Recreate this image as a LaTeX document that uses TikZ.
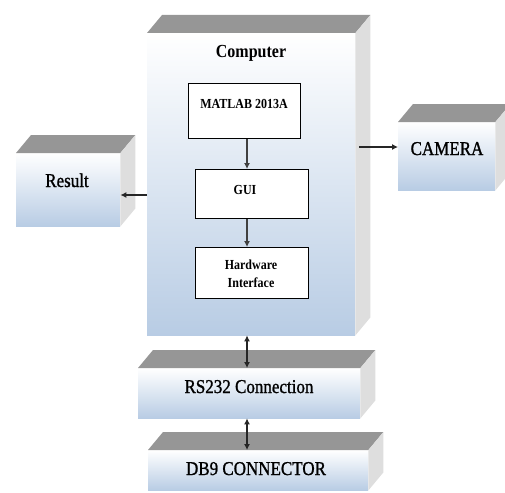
\documentclass[tikz,border=0pt]{standalone}
\usepackage{fontspec}
\setmainfont{Liberation Serif}
\newfontfamily\heavyserif[FakeBold=1.2]{Liberation Serif}
\usetikzlibrary{arrows.meta}

\definecolor{facetop}{HTML}{969696}
\definecolor{faceside}{HTML}{DEDEDE}
\definecolor{facelow}{HTML}{B8CCE4}
\definecolor{flowgray}{HTML}{404040}

\tikzset{
  front/.style={top color=white, bottom color=facelow, draw=none,
                inner sep=0pt, anchor=north west},
  inbox/.style={draw=black, line width=0.7pt, fill=white,
                inner sep=0pt, anchor=north west},
  bigtext/.style={anchor=base, inner sep=0pt,
                  font=\fontsize{17}{20}\heavyserif},
  smalltext/.style={anchor=base, inner sep=0pt,
                    font=\fontsize{12}{14}\selectfont\bfseries},
  flow/.style={draw=flowgray, line width=1.1pt,
               -{Latex[length=6pt,width=6pt]}},
  oneway/.style={draw=black!85, line width=1.1pt,
                 -{Latex[length=6pt,width=6pt]}},
  twoway/.style={draw=black!85, line width=1.1pt,
                 {Latex[length=6pt,width=6pt]}-{Latex[length=6pt,width=6pt]}},
}

% top and right faces of a block whose front face is the node #1
\newcommand{\blockfaces}[1]{%
  \fill[facetop] (#1.north west) -- ++(15,-18)
    -- ([shift={(15,-18)}]#1.north east) -- (#1.north east) -- cycle;
  \fill[faceside] (#1.north east) -- ++(15,-18)
    -- ([shift={(15,-18)}]#1.south east) -- (#1.south east) -- cycle;}

\newcommand{\tall}[1]{\scalebox{1}[1.15]{#1}}

\begin{document}
\begin{tikzpicture}[x=1pt, y=-1pt]
  \useasboundingbox (0,0) rectangle (505,492);
  \clip (0,0) rectangle (505,492);

  % front faces of the blocks
  \node[front, minimum width=208pt, minimum height=302pt] (comp) at (147,33) {};
  \node[front, minimum width=104pt, minimum height=73pt]  (res)  at (16,153) {};
  \node[front, minimum width=97pt,  minimum height=68pt]  (cam)  at (398,122) {};
  \node[front, minimum width=222pt, minimum height=50pt]  (rs)   at (138,368) {};
  \node[front, minimum width=220pt, minimum height=40pt]  (db)   at (148,450) {};

  \blockfaces{comp}
  \blockfaces{res}
  \blockfaces{cam}
  \blockfaces{rs}
  \blockfaces{db}

  % block titles
  \node[bigtext, font=\fontsize{16}{20}\selectfont\bfseries] (comptxt) at (251,58) {\tall{Computer}};
  \node[bigtext] (restxt) at (67,187) {\tall{Result}};
  \node[bigtext] (camtxt) at (447,155) {\tall{CAMERA}};
  \node[bigtext] (rstxt)  at (249,393) {\tall{RS232 Connection}};
  \node[bigtext] (dbtxt)  at (256,475) {\tall{DB9 CONNECTOR}};

  % software stack inside the computer
  \node[inbox, minimum width=112pt, minimum height=55pt] (matlab) at (188,83) {};
  \node[inbox, minimum width=113pt, minimum height=49pt] (gui)    at (195,169) {};
  \node[inbox, minimum width=113pt, minimum height=51pt] (hw)     at (195,247) {};

  \node[smalltext] (matlabtxt) at (244,108) {\tall{MATLAB 2013A}};
  \node[smalltext] (guitxt)    at (245,194) {\tall{GUI}};
  \node[smalltext] (hwtxt1)    at (251,269) {\tall{Hardware}};
  \node[smalltext] (hwtxt2)    at (251,287) {\tall{Interface}};

  % connectors
  \coordinate (spine) at (247,0);
  \coordinate (resrow) at (0,195);
  \coordinate (camtail) at (359,147);

  \draw[flow] (matlab.south -| spine) -- (gui.north -| spine);
  \draw[flow] (gui.south -| spine) -- (hw.north -| spine);

  \draw[oneway] (comp.west |- resrow) -- (res.east |- resrow);
  \draw[oneway] (camtail) -- (cam.west |- camtail);

  \draw[twoway] (comp.south -| spine) -- (rs.north -| spine);
  \draw[twoway] (rs.south -| spine) -- (db.north -| spine);
\end{tikzpicture}
\end{document}
